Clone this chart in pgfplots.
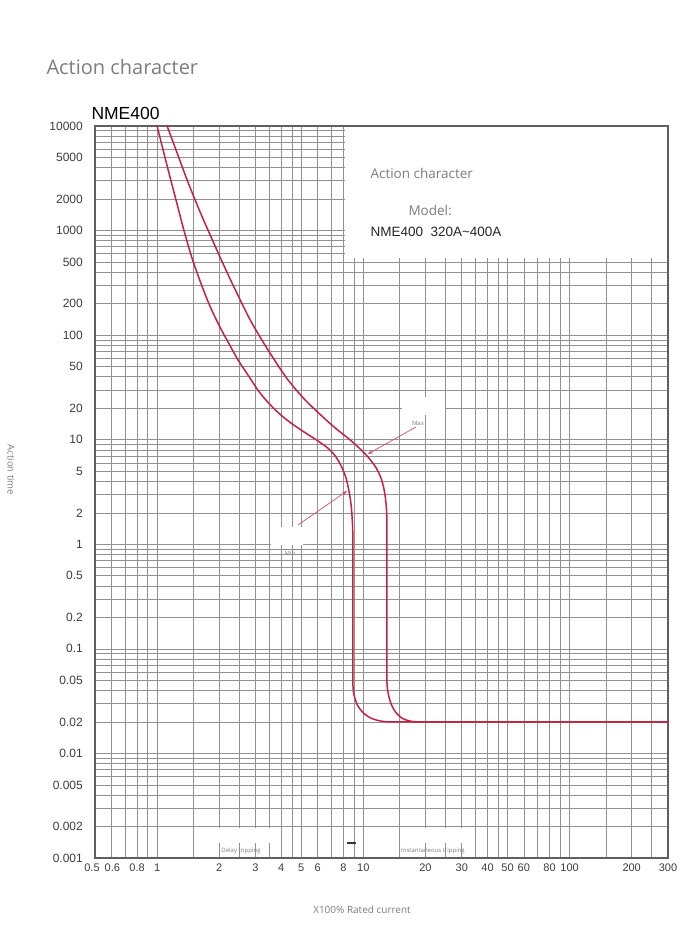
\documentclass[border=0pt]{standalone}
\usepackage{fontspec}
\setmainfont{Liberation Sans}
\newfontfamily\grayfont{Open Sans}
\usepackage{pgfplots}
\pgfplotsset{compat=1.18}
\usetikzlibrary{arrows.meta}
\definecolor{curvered}{RGB}{196,34,64}
\definecolor{gridgray}{RGB}{145,145,145}
\definecolor{framegray}{RGB}{95,95,95}
\definecolor{labelgray}{RGB}{60,60,60}
\definecolor{textgray}{RGB}{125,125,125}

\begin{document}
\begin{tikzpicture}
\begin{axis}[
  at={(0,0)}, anchor=south west,
  scale only axis, width=573pt, height=732pt,
  xmode=log, ymode=log,
  xmin=0.5, xmax=300, ymin=0.001, ymax=10000,
  xtick={0.5,0.6,0.8,1,2,3,4,5,6,8,10,20,30,40,50,60,80,100,200,300},
  xticklabels={\kern-6pt0.5,0.6\kern-2pt,0.8,1,2,3,4,5,6,8,10,20,30,40,50,60,80,100,200,300},
  minor xtick={0.7,0.9,1.5,2.5,3.5,4.5,7,9,15,25,35,45,70,90,150,250},
  ytick={0.001,0.002,0.005,0.01,0.02,0.05,0.1,0.2,0.5,1,2,5,10,20,50,100,200,500,1000,2000,5000,10000},
  yticklabels={0.001,0.002,0.005,0.01,0.02,0.05,0.1,0.2,0.5,1,2,5,10,20,50,100,200,500,1000,2000,5000,10000},
  minor ytick={0.003,0.004,0.006,0.007,0.008,0.009,0.03,0.04,0.06,0.07,0.08,0.09,
               0.3,0.4,0.6,0.7,0.8,0.9,3,4,6,7,8,9,30,40,60,70,80,90,
               300,400,600,700,800,900,3000,4000,6000,7000,8000,9000},
  grid=both,
  major grid style={gridgray, line width=0.6pt},
  minor grid style={gridgray, line width=0.6pt},
  major tick length=0pt, minor tick length=0pt,
  axis line style={framegray, line width=1.1pt},
  tick label style={text=labelgray},
  yticklabel style={font=\fontsize{12}{12}\selectfont, inner sep=0pt, xshift=-12pt},
  xticklabel style={font=\fontsize{11}{11}\selectfont, inner sep=0pt, yshift=-6pt},
]
% Min curve
\addplot[curvered, line width=1.5pt, smooth] coordinates {
  (0.9834,11414) (1.0575,6439) (1.1384,3633) (1.2353,1961) (1.3478,1013) (1.4869,523.4)
  (1.6777,270.4) (1.8392,174.1) (2.0515,112.1) (2.2488,80.6) (2.4679,57.9) (2.7561,41.65)
  (3.0782,29.94) (3.3670,24.02) (3.7436,19.27) (4.2578,15.46) (4.9783,12.41) (5.9201,9.956)
  (6.7096,8.349) (7.3040,7.001) (7.8107,5.616) (8.2409,4.313) (8.5314,3.169) (8.7437,2.278)
  (8.8816,1.373) (8.893,0.7095) (8.893,0.2360) (8.893,0.07849) (8.893,0.04835) (8.993,0.0371)
  (9.351,0.0291) (10.0,0.0244) (10.94,0.02166) (12.23,0.02036) (13.83,0.02) (18.91,0.02) (300,0.02)
};
% Max curve
\addplot[curvered, line width=1.5pt, smooth] coordinates {
  (1.0911,11414) (1.1852,7347) (1.2873,4731) (1.3982,3046) (1.5291,1961) (1.6796,1263)
  (1.8536,813.2) (2.0492,523.4) (2.2715,337.1) (2.5292,217.0) (2.8283,139.7) (3.2199,89.98)
  (3.7062,57.9) (4.3152,37.30) (5.2180,24.02) (6.5981,15.46) (7.5024,12.41) (8.6271,9.956)
  (9.7573,7.989) (10.622,6.699) (11.462,5.495) (12.121,4.410) (12.589,3.385) (12.874,2.488)
  (13.004,1.711) (13.004,0.7095) (13.004,0.2360) (13.004,0.07849) (13.004,0.05053) (13.11,0.0405)
  (13.52,0.0311) (14.30,0.02497) (15.47,0.02166) (17.10,0.02027) (19.34,0.02) (25.0,0.02) (300,0.02)
};
\end{axis}
\begin{scope}[x=1pt, y=-1pt, shift={(-95pt,858pt)}]
  % blank panel in the upper right
  \fill[white] (345,127.2) rectangle (667.2,258);
  \node[anchor=west, text=textgray, font=\grayfont\fontsize{13.5}{13.5}\selectfont] at (367,173) {Action character};
  \node[anchor=west, text=textgray, font=\grayfont\fontsize{13.5}{13.5}\selectfont] at (405,210) {Model:};
  \node[anchor=west, text=black!85, font=\fontsize{13.5}{13.5}\selectfont] at (367,232) {NME400\ \ 320A\textasciitilde400A};
  % titles
  \node[anchor=west, text=textgray, font=\grayfont\fontsize{20}{20}\selectfont] at (43,67) {Action character};
  \node[anchor=west, font=\fontsize{17.5}{17.5}\selectfont] at (88,113) {NME400};
  \node[rotate=-90, text=textgray, font=\grayfont\fontsize{9.5}{9.5}\selectfont] at (11,470) {Action time};
  \node[text=textgray, font=\grayfont\fontsize{10}{10}\selectfont] at (362,910) {X100\% Rated current};
  % Max / Min markers
  \fill[white] (402,397) rectangle (445,415);
  \node[text=textgray, font=\grayfont\fontsize{6}{6}\selectfont] at (418,423) {Max};
  \draw[curvered!80, line width=0.7pt, -{Stealth[length=5pt]}] (416,427) -- (368,454);
  \fill[white] (271,527) rectangle (303,545);
  \node[text=textgray, font=\grayfont\fontsize{6}{6}\selectfont] at (290,553) {Min};
  \draw[curvered!80, line width=0.7pt, -{Stealth[length=5pt]}] (298,525) -- (347,491);
  % tripping zones
  \fill[white] (205,828) rectangle (275,843);
  \node[text=textgray, font=\grayfont\fontsize{6}{6}\selectfont] at (241,851) {Delay tripping};
  \fill[white] (403,828) rectangle (468,843);
  \node[text=textgray, font=\grayfont\fontsize{6}{6}\selectfont] at (433,851) {Instantaneous tripping};
  \fill[black!80] (347,842) rectangle (356,844);
  \pgfresetboundingbox
  \path (0,0) rectangle (685,944);
\end{scope}
\end{tikzpicture}
\end{document}
